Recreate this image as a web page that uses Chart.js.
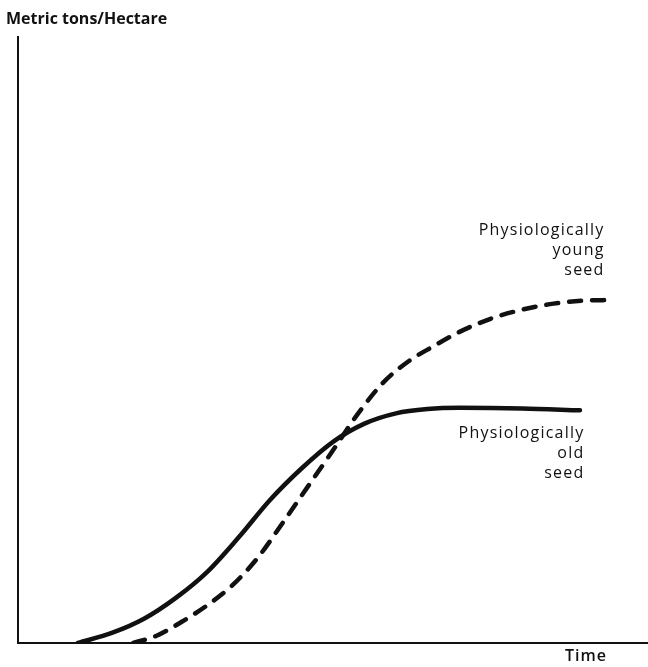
<!DOCTYPE html>
<html>
<head>
<meta charset="utf-8">
<script src="https://cdn.jsdelivr.net/npm/chart.js@4/dist/chart.umd.min.js"></script>
<style>
  html, body { margin: 0; padding: 0; background: #fff; }
  #wrap { width: 648px; height: 667px; position: relative; }
</style>
</head>
<body>
<div id="wrap"><canvas id="growth"></canvas></div>
<script>
// growth curves, time and yield in relative units (0-100)
const oldSeedTime  = [9.5, 15, 20, 25, 30, 35, 40, 45, 50, 55, 60, 65, 70, 80, 89.2];
const oldSeedYield = [0, 1.7, 4.0, 7.4, 11.7, 17.4, 23.6, 28.8, 33.2, 36.2, 37.9, 38.6, 38.8, 38.7, 38.4];

const youngSeedTime  = [18.3, 22, 26, 30, 34, 38, 42, 46, 50, 54, 58, 62, 66, 70, 75, 80, 85, 90, 94.3];
const youngSeedYield = [0, 1.2, 3.5, 6.2, 9.5, 14.0, 19.8, 25.8, 31.8, 37.9, 43.0, 46.5, 49.0, 51.3, 53.5, 55.0, 56.0, 56.5, 56.6];

const yAxisTitle = 'Metric tons/Hectare';
const xAxisTitle = 'Time';
const youngLabel = ['Physiologically', 'young', 'seed'];
const oldLabel = ['Physiologically', 'old', 'seed'];

const toPoints = (xs, ys) => xs.map((x, i) => ({ x: x, y: ys[i] }));

const ink = '#111';
const labelFont = '"Open Sans", "DejaVu Sans", sans-serif';

// axis titles and curve labels
const textPlugin = {
    id: 'curveText',
    afterDraw(chart) {
        const ctx = chart.ctx;
        const xs = chart.scales.x;
        const ys = chart.scales.y;
        ctx.save();
        ctx.fillStyle = ink;
        ctx.textBaseline = 'alphabetic';

        ctx.font = `bold 16px ${labelFont}`;
        ctx.textAlign = 'left';
        ctx.fillText(yAxisTitle, 6, 24);

        ctx.font = `600 16px ${labelFont}`;
        ctx.textAlign = 'right';
        ctx.letterSpacing = '1px';
        ctx.fillText(xAxisTitle, 607, 661);

        const block = (lines, x, y) => {
            lines.forEach((line, i) => ctx.fillText(line, x, y + i * 20));
        };
        ctx.font = `500 16px ${labelFont}`;
        ctx.letterSpacing = '1.2px';
        block(youngLabel, xs.getPixelForValue(93.1), ys.getPixelForValue(67.3));
        block(oldLabel, xs.getPixelForValue(89.9), ys.getPixelForValue(33.9));
        ctx.restore();
    }
};

new Chart(document.getElementById('growth'), {
    type: 'line',
    data: {
        datasets: [{
            label: 'Physiologically old seed',
            data: toPoints(oldSeedTime, oldSeedYield),
            borderColor: ink,
            borderWidth: 4.5,
            borderCapStyle: 'round',
            cubicInterpolationMode: 'monotone',
            pointRadius: 0,
            fill: false
        }, {
            label: 'Physiologically young seed',
            data: toPoints(youngSeedTime, youngSeedYield),
            borderColor: ink,
            borderWidth: 4.5,
            borderDash: [12, 11],
            borderCapStyle: 'round',
            cubicInterpolationMode: 'monotone',
            pointRadius: 0,
            fill: false
        }]
    },
    options: {
        responsive: true,
        maintainAspectRatio: false,
        animation: false,
        layout: { padding: { left: 18, right: 0, top: 37, bottom: 24 } },
        scales: {
            x: {
                type: 'linear',
                min: 0,
                max: 100,
                ticks: { display: false },
                grid: { display: false, drawTicks: false },
                border: { display: true, color: ink, width: 2 }
            },
            y: {
                min: 0,
                max: 100,
                ticks: { display: false },
                grid: { display: false, drawTicks: false },
                border: { display: true, color: ink, width: 2 }
            }
        },
        plugins: {
            legend: { display: false },
            tooltip: { enabled: false }
        }
    },
    plugins: [textPlugin]
});
</script>
</body>
</html>
